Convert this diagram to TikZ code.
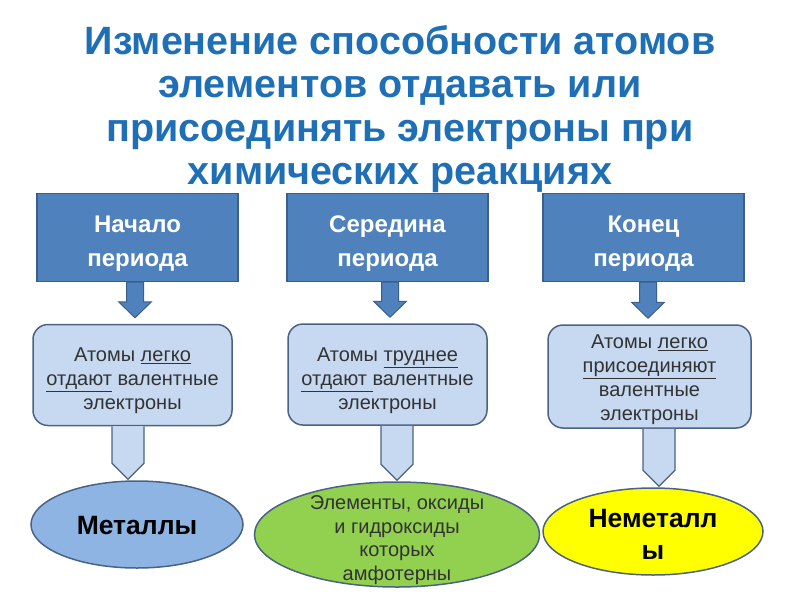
\documentclass[tikz,border=0pt]{standalone}
\usepackage{fontspec}
\setmainfont{Liberation Sans}
\usetikzlibrary{calc,positioning,shapes.geometric}
\definecolor{ttl}{HTML}{1F6FB6}
\definecolor{hdfill}{HTML}{4F81BD}
\definecolor{hdline}{HTML}{3A5F8C}
\definecolor{bxfill}{HTML}{C6D9F1}
\definecolor{bxline}{HTML}{4A6283}
\definecolor{txt}{HTML}{333333}
\definecolor{metal}{HTML}{8DB4E2}
\definecolor{amph}{HTML}{92D050}
\definecolor{nonmet}{HTML}{FFFF00}
\newcommand\topgap[1]{\rule{0pt}{#1}}

\tikzset{
  head/.style={rectangle,fill=hdfill,draw=hdline,line width=1.2pt,minimum width=201pt,minimum height=88pt,
    text=white,font=\fontsize{24}{34}\selectfont\bfseries,align=center},
  note/.style={rectangle,rounded corners=15pt,fill=bxfill,draw=bxline,line width=1.5pt,minimum width=199pt,
    minimum height=101pt,text=txt,font=\fontsize{20}{24}\selectfont,align=center,inner sep=2pt},
  oval/.style={ellipse,draw=bxline,line width=1.5pt,inner sep=0pt},
  ovaltext/.style={align=center,text=black},
  darr/.style={fill=hdfill,draw=hdline,line width=1pt},
  larr/.style={fill=bxfill,draw=bxline,line width=1.3pt},
}

\begin{document}
\begin{tikzpicture}[x=1pt,y=1pt]
  \useasboundingbox (0,0) rectangle (800,-600);
  \node[align=center,text=ttl,font=\fontsize{39.5}{43.3}\selectfont\bfseries] (title) at (400,-109)
    {Изменение способности атомов\\элементов отдавать или\\присоединять электроны при\\химических реакциях};

  % period parts
  \node[head] (top1) at (137.5,-237.5) {\topgap{28pt}Начало\\периода};
  \node[head] (top2) at (387.5,-237.5) {\topgap{28pt}Середина\\периода};
  \node[head] (top3) at (643.5,-237.5) {\topgap{28pt}Конец\\периода};

  \node[note] (mid1) at (132.5,-375) {\topgap{25pt}Атомы \underline{легко}\\\underline{отдают} валентные\\электроны};
  \node[note] (mid2) at (387.5,-374.5) {\topgap{27pt}Атомы \underline{труднее}\\\underline{отдают\ }валентные\\электроны};
  \node[note,minimum width=203pt,minimum height=103pt] (mid3) at (649.5,-376.5)
    {\topgap{21pt}Атомы \underline{легко}\\\underline{присоединяют}\\валентные\\электроны};

  \node[oval,fill=metal,minimum width=212pt,minimum height=87pt] (e1) at (137,-524.5) {};
  \node[oval,fill=amph,minimum width=285pt,minimum height=105pt] (e2) at (397,-534.5) {};
  \node[oval,fill=nonmet,minimum width=220pt,minimum height=87pt] (e3) at (653,-531.5) {};

  \node[ovaltext,font=\fontsize{26.5}{32}\selectfont\bfseries] (t1) at (137,-526) {Металлы};
  \node[ovaltext,font=\fontsize{20}{23.5}\selectfont,text=txt] (t2) at (397,-540)
    {Элементы, оксиды\\и гидроксиды\\которых\\амфотерны};
  \node[ovaltext,font=\fontsize{26.5}{32}\selectfont\bfseries] (t3) at (653,-534) {Неметалл\\ы};

  % block arrows
  \foreach \a/\dx in {1/-2.5,2/2.5,3/4.5}
    \draw[darr] let \p1=($(top\a.south)+(\dx,0)$), \p2=(mid\a.north) in
      (\x1-8.5pt,\y1) -- (\x1-8.5pt,\y2+22pt) -- (\x1-16.5pt,\y2+22pt) -- (\x1,\y2+6pt)
      -- (\x1+16.5pt,\y2+22pt) -- (\x1+8.5pt,\y2+22pt) -- (\x1+8.5pt,\y1) -- cycle;
  \foreach \a/\dx in {1/-4.5,2/9.5,3/9.5}
    \draw[larr] let \p1=($(mid\a.south)+(\dx,0)$), \p2=(e\a.north) in
      (\x1-16pt,\y1) -- (\x1-16pt,\y2+17pt) -- (\x1,\y2+1pt) -- (\x1+16pt,\y2+17pt) -- (\x1+16pt,\y1);
\end{tikzpicture}
\end{document}
